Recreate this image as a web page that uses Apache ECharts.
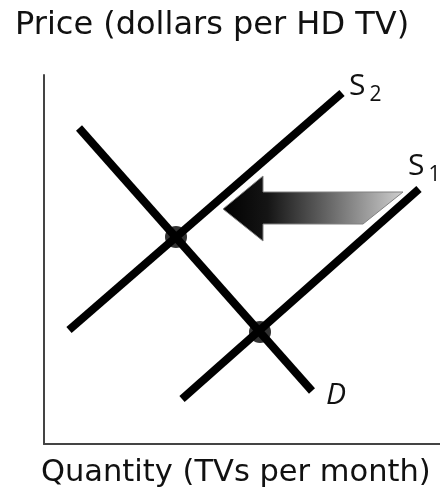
<!DOCTYPE html>
<html>
<head>
<meta charset="utf-8">
<script src="https://cdn.jsdelivr.net/npm/echarts@6/dist/echarts.min.js"></script>
<style>
  html, body { margin: 0; padding: 0; background: #fff; }
  #chart { width: 440px; height: 495px; }
</style>
</head>
<body>
<div id="chart"></div>
<script>
// Axis titles
var yTitle = 'Price (dollars per HD TV)';
var xTitle = 'Quantity (TVs per month)';

// Curves (quantity, price) in chart units
var demand = [[35, 316], [268, 53]];
var supply2 = [[25, 114], [298, 351]];
var supply1 = [[138, 45], [375, 255]];

// Equilibrium points
var equilibria = [[132, 207], [216, 112]];

// Shift arrow outline (supply moves left from S1 to S2)
var shiftArrow = [[179, 235], [219, 268], [219, 252], [359, 252], [319, 220], [219, 220], [219, 203]];

var axisMax = { x: 396, y: 369 };

var chart = echarts.init(document.getElementById('chart'));
var font = '"Open Sans", Lato, sans-serif';
var titleFont = '"DejaVu Sans", "Open Sans", sans-serif';

function curve(name, data, labelText, rich, offset) {
  return {
    name: name,
    type: 'line',
    data: data,
    symbol: 'none',
    silent: true,
    lineStyle: { color: '#000', width: 8, cap: 'butt' },
    endLabel: {
      show: true,
      formatter: labelText,
      rich: rich,
      offset: offset
    },
    z: 3
  };
}

var sRich = {
  s: { fontFamily: font, fontSize: 30, color: '#111' },
  sub: { fontFamily: font, fontSize: 21, color: '#111', padding: [18, 0, 0, 4] }
};
var dRich = {
  d: { fontFamily: font, fontSize: 30, fontStyle: 'italic', color: '#111' }
};

chart.setOption({
  animation: false,
  title: [
    { text: yTitle, left: 10, top: 5, textStyle: { fontFamily: titleFont, fontSize: 32, fontWeight: 'normal', color: '#111' } },
    { text: xTitle, left: 36, top: 453, textStyle: { fontFamily: titleFont, fontSize: 30.5, fontWeight: 'normal', color: '#111' } }
  ],
  grid: { left: 44, right: 0, top: 75, bottom: 51 },
  xAxis: {
    type: 'value', min: 0, max: axisMax.x,
    axisLine: { show: true, lineStyle: { color: '#444', width: 2 } },
    axisTick: { show: false }, axisLabel: { show: false }, splitLine: { show: false }
  },
  yAxis: {
    type: 'value', min: 0, max: axisMax.y,
    axisLine: { show: true, lineStyle: { color: '#444', width: 2 } },
    axisTick: { show: false }, axisLabel: { show: false }, splitLine: { show: false }
  },
  series: [
    curve('D', demand, '{d|D}', dRich, [6, 4]),
    curve('S2', supply2, '{s|S}{sub|2}', sRich, [-1, -7]),
    curve('S1', supply1, '{s|S}{sub|1}', sRich, [-19, -23]),
    {
      type: 'scatter',
      data: equilibria,
      symbol: 'circle',
      symbolSize: 22,
      itemStyle: { color: '#000' },
      silent: true,
      z: 4
    },
    {
      type: 'custom',
      data: [0],
      silent: true,
      z: 5,
      renderItem: function (params, api) {
        var pts = shiftArrow.map(function (p) { return api.coord(p); });
        return {
          type: 'polygon',
          shape: { points: pts },
          style: {
            fill: new echarts.graphic.LinearGradient(0, 0, 1, 0, [
              { offset: 0, color: '#000' },
              { offset: 0.25, color: '#151515' },
              { offset: 0.6, color: '#6a6a6a' },
              { offset: 1, color: '#cfcfcf' }
            ]),
            stroke: '#808080',
            lineWidth: 1
          }
        };
      }
    }
  ]
});
</script>
</body>
</html>
